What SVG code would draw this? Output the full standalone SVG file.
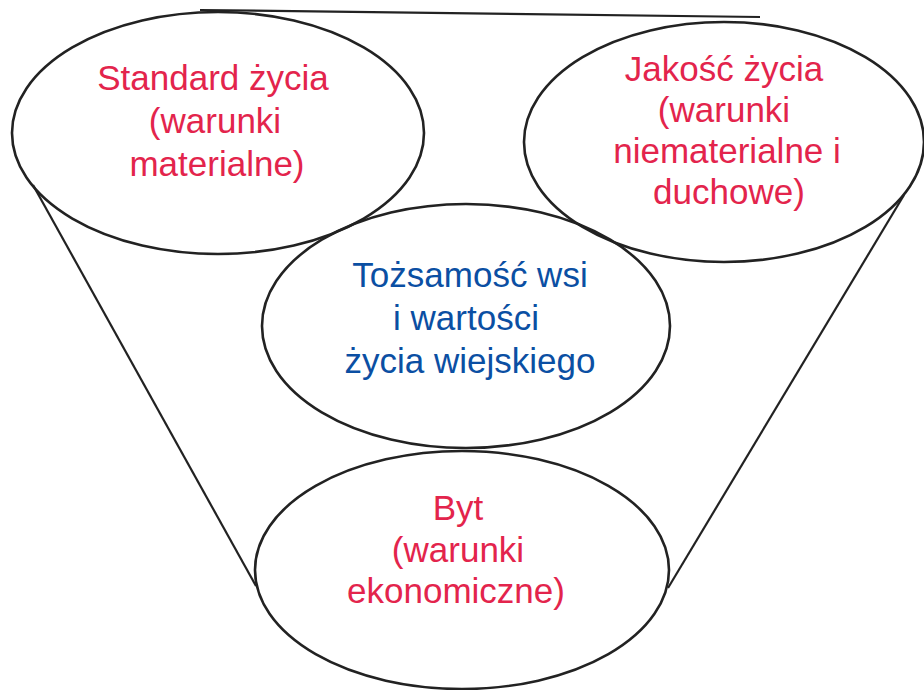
<svg xmlns="http://www.w3.org/2000/svg" width="924" height="690" viewBox="0 0 924 690">
<style>
.e{fill:none;stroke:#222;stroke-width:2.6}
.l{fill:none;stroke:#222;stroke-width:2.2}
.t{font-family:"Liberation Sans",Arial,sans-serif;font-size:35px;text-anchor:middle}
.r{fill:#E3244C}
.b{fill:#0B4FA3}
</style>
<rect width="924" height="690" fill="#fff"/>
<g id="connectors">
<line class="l" x1="200" y1="10" x2="760" y2="17"/>
<line class="l" x1="33" y1="185" x2="256" y2="586"/>
<line class="l" x1="904" y1="195" x2="668" y2="588"/>
</g>
<g id="standard">
<ellipse class="e" cx="218" cy="133" rx="206" ry="121"/>
<text class="t r"><tspan x="213" y="90">Standard życia</tspan><tspan x="215" y="133">(warunki</tspan><tspan x="217" y="176">materialne)</tspan></text>
</g>
<g id="jakosc">
<ellipse class="e" cx="724" cy="142" rx="200" ry="120"/>
<text class="t r"><tspan x="724" y="81">Jakość życia</tspan><tspan x="724" y="122">(warunki</tspan><tspan x="727" y="163">niematerialne i</tspan><tspan x="729" y="204">duchowe)</tspan></text>
</g>
<g id="tozsamosc">
<ellipse class="e" cx="466" cy="326" rx="204" ry="122"/>
<text class="t b"><tspan x="470" y="287">Tożsamość wsi</tspan><tspan x="466" y="330">i wartości</tspan><tspan x="470" y="373">życia wiejskiego</tspan></text>
</g>
<g id="byt">
<ellipse class="e" cx="462" cy="570" rx="207" ry="119"/>
<text class="t r"><tspan x="458" y="520">Byt</tspan><tspan x="458" y="562">(warunki</tspan><tspan x="456" y="603">ekonomiczne)</tspan></text>
</g>
</svg>
